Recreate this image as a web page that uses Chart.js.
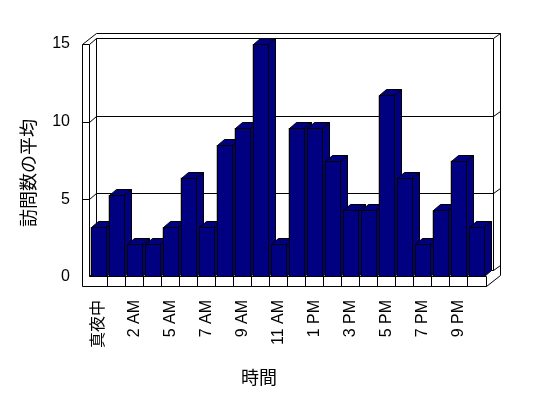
<!DOCTYPE html>
<html>
<head>
<meta charset="utf-8">
<script src="https://cdn.jsdelivr.net/npm/chart.js@4"></script>
<style>
  html, body { margin: 0; padding: 0; background: #fff; }
  canvas { display: block; }
</style>
</head>
<body>
<canvas id="chart" width="548" height="398"></canvas>
<script>
// Données
const hourLabels = ['真夜中', '1 AM', '2 AM', '3 AM', '5 AM', '6 AM', '7 AM', '8 AM', '9 AM', '10 AM', '11 AM',
                    '正午', '1 PM', '2 PM', '3 PM', '4 PM', '5 PM', '6 PM', '7 PM', '8 PM', '9 PM', '10 PM'];
const avgVisits  = [3.2, 5.3, 2.1, 2.1, 3.2, 6.4, 3.2, 8.5, 9.6, 15, 2.1,
                    9.6, 9.6, 7.5, 4.3, 4.3, 11.7, 6.4, 2.1, 4.3, 7.5, 3.2];
const yTicks     = [0, 5, 10, 15];
const yTitle     = '訪問数の平均';
const xTitle     = '時間';

const FONT = '"Liberation Sans", "Noto Sans CJK JP", sans-serif';
const NAVY = '#000080';
const DX = 7, DY = -6;   // profondeur (oblique) des murs et des barres

// ── Helpers ────────────────────────────────────────────────────────────────

const px = v => Math.round(v) + 0.5;

function seg(ctx, x1, y1, x2, y2) {
  ctx.beginPath();
  ctx.moveTo(px(x1), px(y1));
  ctx.lineTo(px(x2), px(y2));
  ctx.stroke();
}

function poly(ctx, pts, fill) {
  ctx.beginPath();
  pts.forEach(([x, y], i) => i ? ctx.lineTo(px(x), px(y)) : ctx.moveTo(px(x), px(y)));
  ctx.closePath();
  if (fill) { ctx.fillStyle = fill; ctx.fill(); }
  ctx.stroke();
}

// ── Plugin 3D : murs, sol, faces des barres ────────────────────────────────

const box3d = {
  id: 'box3d',
  beforeDatasetsDraw(chart) {
    const { ctx, chartArea: a, scales: { x, y } } = chart;
    const L = a.left, R = a.right + 1;
    const top = Math.round(y.getPixelForValue(yTicks[yTicks.length - 1]));
    const floorTop = Math.round(y.getPixelForValue(0)) - 1;
    const floorBot = floorTop + 10;

    ctx.save();
    ctx.strokeStyle = '#000';
    ctx.lineWidth = 1;

    // mur latéral (face avant + dessus)
    seg(ctx, L - DX, top, L - DX, floorBot);
    seg(ctx, L, top, L, floorTop);
    seg(ctx, L - DX, top, L, top);
    seg(ctx, L - DX, top, L + DX, top + 2 * DY + 1);
    seg(ctx, L, top, L + DX, top + DY);

    // mur du fond (face intérieure + épaisseur)
    seg(ctx, L + DX, top + DY, L + DX, floorTop + DY);
    seg(ctx, L + DX, top + DY, R + DX, top + DY);
    seg(ctx, L + DX, top + 2 * DY + 1, R + 2 * DX, top + 2 * DY + 1);
    seg(ctx, R + DX, top + DY, R + DX, floorTop + DY);
    seg(ctx, R + DX, top + DY, R + 2 * DX, top + 2 * DY + 1);
    seg(ctx, R + 2 * DX, top + 2 * DY + 1, R + 2 * DX, floorBot + 2 * DY + 1);

    // lignes de grille : face avant du mur, diagonale, fond, côté droit
    yTicks.slice(0, -1).forEach(v => {
      const yy = Math.round(y.getPixelForValue(v)) - (v === 0 ? 1 : 0);
      if (v !== 0) seg(ctx, L - DX, yy, L, yy);
      seg(ctx, L, yy, L + DX, yy + DY);
      seg(ctx, L + DX, yy + DY, R + DX, yy + DY);
      seg(ctx, R + DX, yy + DY, R + 2 * DX, yy + 2 * DY + 1);
    });

    // sol : face avant découpée par catégorie + côté droit
    seg(ctx, L, floorTop, R, floorTop);
    seg(ctx, L - DX, floorBot, R, floorBot);
    seg(ctx, R, floorTop, R, floorBot);
    seg(ctx, R, floorBot, R + 2 * DX, floorBot + 2 * DY + 1);
    for (let i = 1; i < hourLabels.length; i++) {
      const xx = Math.round((x.getPixelForValue(i - 1) + x.getPixelForValue(i)) / 2);
      seg(ctx, xx, floorTop, xx, floorBot);
    }
    ctx.restore();
  },

  afterDatasetsDraw(chart) {
    const { ctx } = chart;
    const meta = chart.getDatasetMeta(0);
    ctx.save();
    ctx.strokeStyle = '#000';
    ctx.lineWidth = 1;
    meta.data.forEach(bar => {
      const { x, y, base, width } = bar.getProps(['x', 'y', 'base', 'width'], true);
      const l = Math.round(x - width / 2), r = l + Math.round(width);
      const t = Math.round(y), b = Math.round(base) - 1;
      poly(ctx, [[l, t], [r, t], [r, b], [l, b]], NAVY);
      poly(ctx, [[l, t], [l + DX, t + DY], [r + DX, t + DY], [r, t]], NAVY);
      poly(ctx, [[r, t], [r + DX, t + DY], [r + DX, b + DY], [r, b]], NAVY);
    });
    ctx.restore();
  },

  afterDraw(chart) {
    const { ctx } = chart;
    ctx.save();
    ctx.fillStyle = '#000';
    ctx.font = '18px "Noto Sans CJK JP", sans-serif';
    ctx.textAlign = 'center';
    ctx.textBaseline = 'middle';
    ctx.fillText(xTitle, 259, 377);
    ctx.translate(28, 173);
    ctx.rotate(-Math.PI / 2);
    ctx.fillText(yTitle, 0, 0);
    ctx.restore();
  },
};

// ── Graphique ──────────────────────────────────────────────────────────────

new Chart(document.getElementById('chart'), {
  type: 'bar',
  data: {
    labels: hourLabels,
    datasets: [{
      data:               avgVisits,
      backgroundColor:    NAVY,
      borderColor:        '#000',
      borderWidth:        1,
      barPercentage:      15 / 18,
      categoryPercentage: 1,
    }],
  },
  options: {
    responsive: false,
    animation: false,
    devicePixelRatio: 1,
    layout: { padding: { top: 44, right: 63, bottom: 0, left: 0 } },
    plugins: {
      legend:  { display: false },
      tooltip: { enabled: false },
    },
    scales: {
      x: {
        grid:   { display: false, drawTicks: false },
        border: { display: false },
        ticks: {
          autoSkip: false,
          minRotation: 90,
          maxRotation: 90,
          padding: 23,
          labelOffset: 1,
          color: '#000',
          font: { family: FONT, size: 16 },
          callback: (v, i) => i % 2 ? '' : hourLabels[i],
        },
        afterFit: s => { s.height = 121; },
      },
      y: {
        min: 0,
        max: 15,
        grid:   { display: false, drawTicks: false },
        border: { display: false },
        ticks: {
          padding: 19,
          color: '#000',
          font: { family: FONT, size: 16 },
        },
        afterBuildTicks: s => { s.ticks = yTicks.map(v => ({ value: v })); },
        afterFit: s => { s.width = 89; },
      },
    },
  },
  plugins: [box3d],
});
</script>
</body>
</html>
